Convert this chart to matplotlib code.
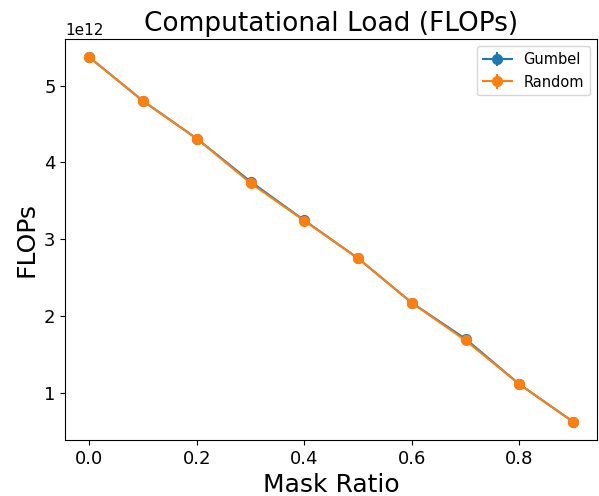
import matplotlib
matplotlib.use("Agg")
import matplotlib.pyplot as plt

mask_ratio = [0.0, 0.1, 0.2, 0.3, 0.4, 0.5, 0.6, 0.7, 0.8, 0.9]
gumbel_flops = [5.37e12, 4.80e12, 4.31e12, 3.75e12, 3.245e12, 2.75e12, 2.17e12, 1.70e12, 1.11e12, 0.62e12]
random_flops = [5.37e12, 4.80e12, 4.31e12, 3.73e12, 3.24e12, 2.75e12, 2.17e12, 1.68e12, 1.11e12, 0.62e12]
gumbel_err = [0.0] * len(mask_ratio)
random_err = [0.0] * len(mask_ratio)


def main():
    fig, ax = plt.subplots(figsize=(5.99, 4.96), dpi=100)
    fig.subplots_adjust(left=0.109, right=0.997, top=0.921, bottom=0.113)
    ax.errorbar(mask_ratio, gumbel_flops, yerr=gumbel_err, fmt="-o", markersize=7, label="Gumbel")
    ax.errorbar(mask_ratio, random_flops, yerr=random_err, fmt="-o", markersize=7, label="Random")
    ax.set_title("Computational Load (FLOPs)", fontsize=19)
    ax.set_xlabel("Mask Ratio", fontsize=18)
    ax.set_ylabel("FLOPs", fontsize=18)
    ax.tick_params(labelsize=13)
    ax.yaxis.get_offset_text().set_fontsize(11)
    ax.legend(fontsize=10.5)
    fig.savefig("out.png")


if __name__ == "__main__":
    main()
